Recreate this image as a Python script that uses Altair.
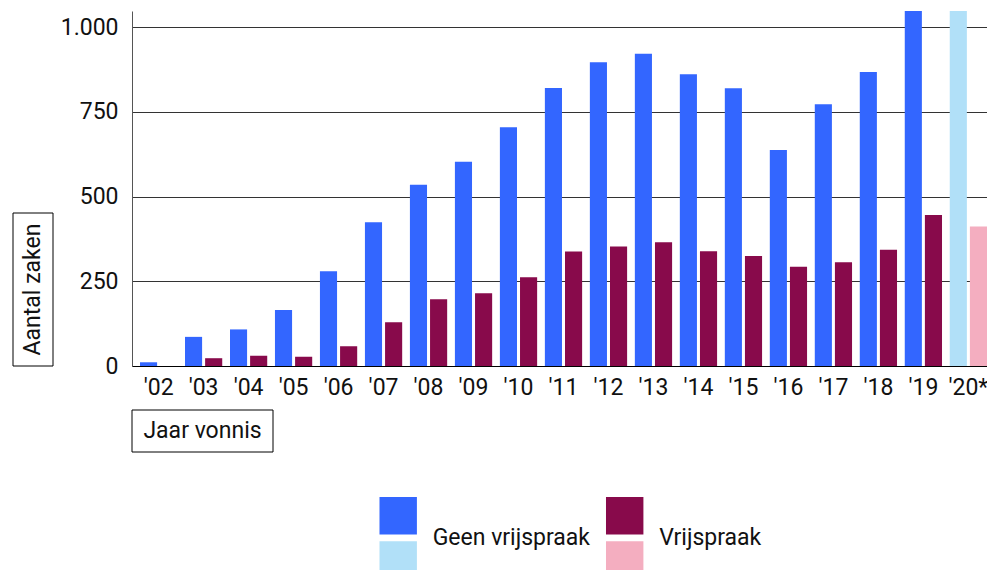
import altair as alt
import pandas as pd

jaren = ["'02", "'03", "'04", "'05", "'06", "'07", "'08", "'09", "'10", "'11",
         "'12", "'13", "'14", "'15", "'16", "'17", "'18", "'19", "'20*"]
geen_vrijspraak = [11, 86, 108, 165, 280, 424, 535, 603, 705, 821,
                   897, 922, 861, 820, 638, 773, 868, 1120, 1090]
vrijspraak = [0, 23, 30, 27, 58, 129, 197, 215, 262, 338,
              353, 365, 339, 325, 293, 306, 343, 446, 412]
reeksen = ["Geen vrijspraak", "Vrijspraak"]
kleur_domein = ["Geen vrijspraak", "Geen vrijspraak 2020", "Vrijspraak", "Vrijspraak 2020"]
kleuren = ["#3366ff", "#b1e0f8", "#880a4b", "#f4aec0"]
y_ticks = [0, 250, 500, 750, 1000]

FONT = "Roboto"
FS = 23

rows = []
for j, g, v in zip(jaren, geen_vrijspraak, vrijspraak):
    suffix = " 2020" if j == "'20*" else ""
    rows.append({"jaar": j, "reeks": reeksen[0], "aantal": g, "kleur": reeksen[0] + suffix})
    rows.append({"jaar": j, "reeks": reeksen[1], "aantal": v, "kleur": reeksen[1] + suffix})
df = pd.DataFrame(rows)

legend_rows = []
for r in reeksen:
    legend_rows.append({"reeks": r, "periode": "regulier", "kleur": r})
    legend_rows.append({"reeks": r, "periode": "2020", "kleur": r + " 2020"})
legend_df = pd.DataFrame(legend_rows)

color = alt.Color("kleur:N", scale=alt.Scale(domain=kleur_domein, range=kleuren), legend=None)

bars = alt.Chart(df).mark_bar(clip=True).encode(
    x=alt.X("jaar:N", sort=jaren,
            scale=alt.Scale(paddingInner=0.172, paddingOuter=0.0889, align=1),
            axis=alt.Axis(title=None, labelAngle=0, labelFontSize=FS, labelFont=FONT,
                          labelColor="#111", labelPadding=10, ticks=False,
                          domainColor="#000", domainWidth=1, grid=False)),
    xOffset=alt.XOffset("reeks:N", sort=reeksen,
                        scale=alt.Scale(paddingInner=0.15, paddingOuter=0)),
    y=alt.Y("aantal:Q", scale=alt.Scale(domain=[0, 1048], nice=False),
            axis=alt.Axis(title=None, values=y_ticks,
                          labelExpr="replace(format(datum.value, ','), ',', '.')",
                          labelFontSize=FS, labelFont=FONT, labelColor="#111",
                          ticks=False, labelPadding=14, domainColor="#555",
                          grid=True, gridColor="#333", gridWidth=1)),
    color=color,
)

y_title_box = alt.Chart(alt.Data(values=[{"t": "Aantal zaken"}])).mark_rect(
    filled=False, stroke="#000", strokeWidth=1
).encode(x=alt.value(-119), x2=alt.value(-79), y=alt.value(202), y2=alt.value(355))

y_title = alt.Chart(alt.Data(values=[{"t": "Aantal zaken"}])).mark_text(
    angle=270, fontSize=FS, font=FONT, color="#111", baseline="middle", align="center"
).encode(x=alt.value(-99), y=alt.value(278.5), text="t:N")

x_title_box = alt.Chart(alt.Data(values=[{"t": "Jaar vonnis"}])).mark_rect(
    filled=False, stroke="#000", strokeWidth=1
).encode(x=alt.value(0), x2=alt.value(141), y=alt.value(399), y2=alt.value(441))

x_title = alt.Chart(alt.Data(values=[{"t": "Jaar vonnis"}])).mark_text(
    fontSize=FS, font=FONT, color="#111", baseline="middle", align="center"
).encode(x=alt.value(70.5), y=alt.value(420), text="t:N")

leg_x = alt.X("reeks:N", sort=reeksen,
              scale=alt.Scale(type="point", domain=reeksen, range=[266.2, 492.7], padding=0),
              axis=None)

legend_sq = alt.Chart(legend_df).mark_square(size=1400, opacity=1).encode(
    x=leg_x,
    y=alt.Y("periode:N",
            scale=alt.Scale(type="point", domain=["regulier", "2020"], range=[504.7, 549], padding=0),
            axis=None),
    color=color,
)

legend_txt = alt.Chart(legend_df[legend_df["periode"] == "regulier"]).mark_text(
    align="left", baseline="middle", dx=34.5, fontSize=FS, font=FONT, color="#111"
).encode(x=leg_x, y=alt.value(527), text="reeks:N")

chart = alt.layer(
    bars, y_title_box, y_title, x_title_box, x_title, legend_sq, legend_txt
).resolve_scale(x="independent", y="independent").properties(
    width=855, height=355,
    autosize=alt.AutoSizeParams(type="none"),
    padding={"left": 124, "top": 3, "right": 0, "bottom": 204},
).configure(font=FONT).configure_view(stroke=None).configure_axis(grid=False)

chart.save("out.html", embed_options={"renderer": "svg", "actions": False})
